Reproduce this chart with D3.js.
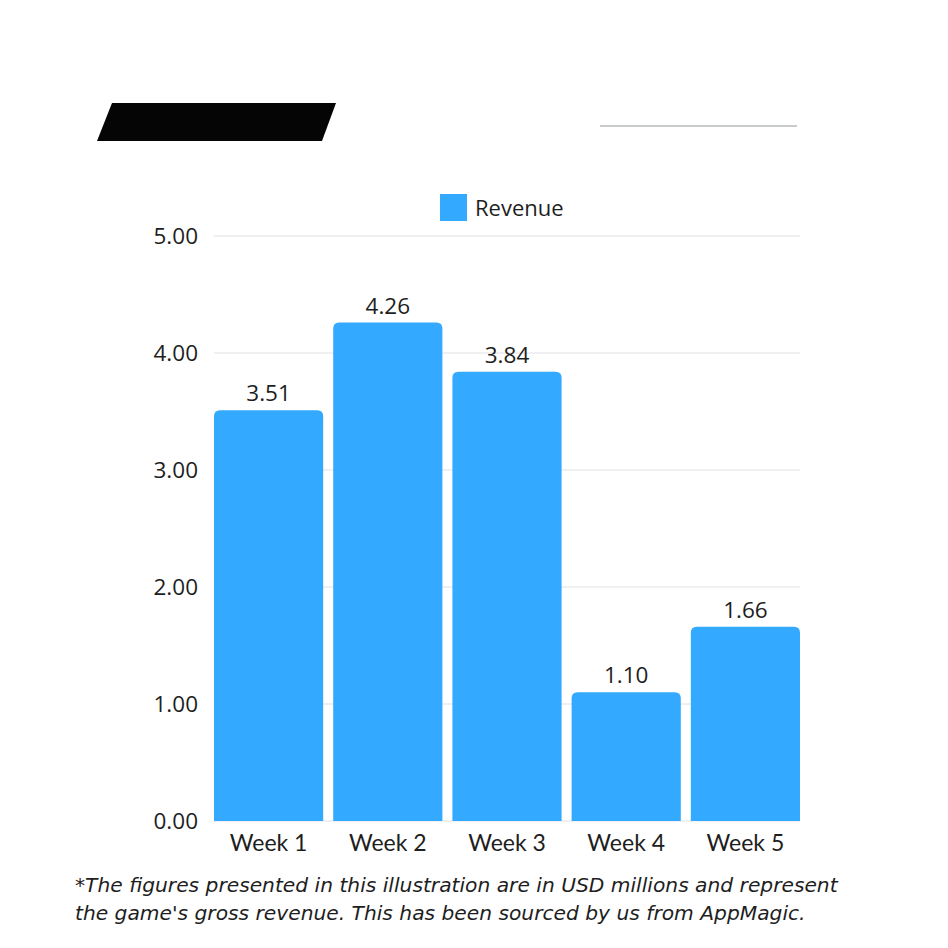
<!DOCTYPE html>
<html>
<head>
<meta charset="utf-8">
<script src="https://cdn.jsdelivr.net/npm/d3@7"></script>
<style>
  body { margin: 0; background: #fff; }
  svg { display: block; }
</style>
</head>
<body>
<div id="chart"></div>
<script>
const weeks = ['Week 1', 'Week 2', 'Week 3', 'Week 4', 'Week 5'];
const revenue = [3.51, 4.26, 3.84, 1.10, 1.66];
const yTicks = [0, 1, 2, 3, 4, 5];
const seriesName = 'Revenue';
const footnote = [
    "*The figures presented in this illustration are in USD millions and represent",
    "the game's gross revenue. This has been sourced by us from AppMagic."
];

const width = 948, height = 948;
const margin = { top: 236, right: 148, bottom: 127, left: 214 };
const barColor = '#33aaff';
const textColor = '#1e1e1e';

const svg = d3.select('#chart')
    .append('svg')
    .attr('width', width)
    .attr('height', height);

// redacted header block (logo area)
svg.append('path')
    .attr('d', 'M112,103 L336,103 L322,141 L97,141 Z')
    .attr('fill', '#050505');
svg.append('line')
    .attr('x1', 600).attr('x2', 797)
    .attr('y1', 126).attr('y2', 126)
    .attr('stroke', '#b5bbb8')
    .attr('stroke-width', 1.5);

const x = d3.scaleBand()
    .domain(weeks)
    .range([margin.left, width - margin.right])
    .paddingInner(0.084)
    .paddingOuter(0);

const y = d3.scaleLinear()
    .domain([0, 5])
    .range([height - margin.bottom, margin.top]);

// gridlines
svg.append('g')
    .selectAll('line')
    .data(yTicks)
    .join('line')
    .attr('x1', margin.left)
    .attr('x2', width - margin.right)
    .attr('y1', d => y(d))
    .attr('y2', d => y(d))
    .attr('stroke', '#e2e2e6')
    .attr('stroke-width', 1.2);

// y axis labels
svg.append('g')
    .selectAll('text')
    .data(yTicks)
    .join('text')
    .attr('x', margin.left - 16)
    .attr('y', d => y(d))
    .attr('dy', '0.35em')
    .attr('text-anchor', 'end')
    .attr('font-family', 'Open Sans, sans-serif')
    .attr('font-size', 22.5)
    .attr('fill', textColor)
    .text(d => d.toFixed(2));

// bars with rounded top corners
const r = 6;
function barPath(d, i) {
    const x0 = x(weeks[i]), w = x.bandwidth();
    const top = y(d), base = y(0);
    return `M${x0},${base} L${x0},${top + r} Q${x0},${top} ${x0 + r},${top}` +
        ` L${x0 + w - r},${top} Q${x0 + w},${top} ${x0 + w},${top + r}` +
        ` L${x0 + w},${base} Z`;
}

svg.append('g')
    .selectAll('path')
    .data(revenue)
    .join('path')
    .attr('d', (d, i) => barPath(d, i))
    .attr('fill', barColor);

// value labels
svg.append('g')
    .selectAll('text')
    .data(revenue)
    .join('text')
    .attr('x', (d, i) => x(weeks[i]) + x.bandwidth() / 2)
    .attr('y', d => y(d) - 9)
    .attr('text-anchor', 'middle')
    .attr('font-family', 'Open Sans, sans-serif')
    .attr('font-size', 22.5)
    .attr('fill', textColor)
    .text(d => d.toFixed(2));

// x labels
svg.append('g')
    .selectAll('text')
    .data(weeks)
    .join('text')
    .attr('x', d => x(d) + x.bandwidth() / 2)
    .attr('y', height - margin.bottom + 30)
    .attr('text-anchor', 'middle')
    .attr('font-family', 'Lato, sans-serif')
    .attr('font-size', 23)
    .attr('fill', textColor)
    .text(d => d);

// legend
const legend = svg.append('g');
legend.append('rect')
    .attr('x', 440).attr('y', 194)
    .attr('width', 27).attr('height', 27)
    .attr('fill', barColor);
legend.append('text')
    .attr('x', 475).attr('y', 216)
    .attr('font-family', 'Open Sans, sans-serif')
    .attr('font-size', 22)
    .attr('fill', textColor)
    .text(seriesName);

// footnote, sized so the first line spans about the same width as the original
const note = svg.append('g')
    .selectAll('text')
    .data(footnote)
    .join('text')
    .attr('x', 75)
    .attr('y', (d, i) => 892 + i * 28)
    .attr('font-family', 'DejaVu Sans, sans-serif')
    .attr('font-style', 'italic')
    .attr('font-size', 20)
    .attr('fill', textColor)
    .text(d => d);

const firstLen = note.node().getComputedTextLength();
note.attr('font-size', Math.min(22, 20 * 763 / firstLen));
</script>
</body>
</html>
